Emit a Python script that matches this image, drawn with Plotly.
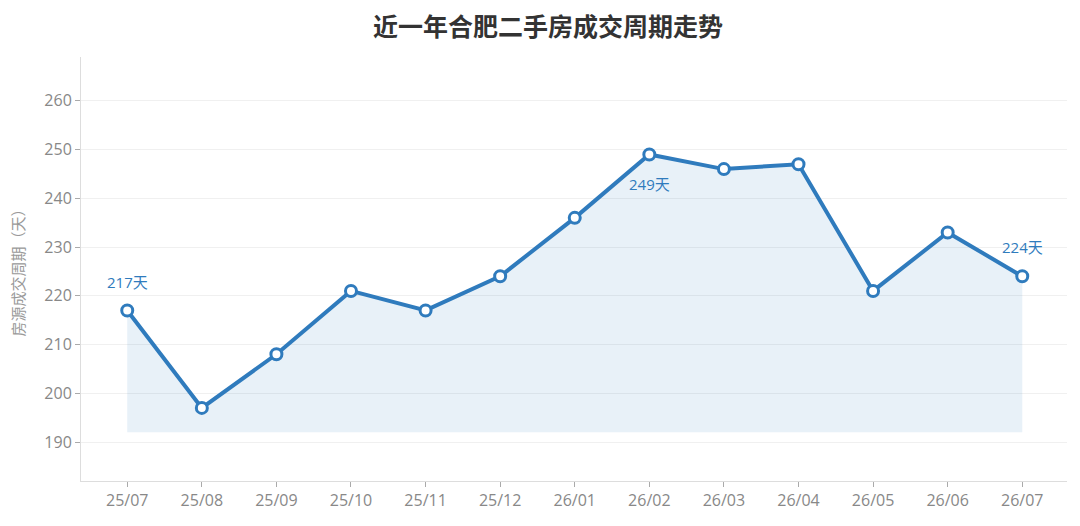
import plotly.graph_objects as go

# 数据
months = ["25/07", "25/08", "25/09", "25/10", "25/11", "25/12", "26/01",
          "26/02", "26/03", "26/04", "26/05", "26/06", "26/07"]
days = [217, 197, 208, 221, 217, 224, 236, 249, 246, 247, 221, 233, 224]
fill_base = 192

# 标注点：月份 -> 上/下方偏移
label_months = ["25/07", "26/02", "26/07"]
label_shift = [28, -30, 29]

line_color = "#2f7bbd"
font_family = "Open Sans, Noto Sans CJK SC"

fig = go.Figure()

# 填充底线
fig.add_trace(go.Scatter(
    x=months, y=[fill_base] * len(months),
    mode="lines", line=dict(width=0),
    hoverinfo="skip", showlegend=False,
))

# 面积填充
fig.add_trace(go.Scatter(
    x=months, y=days,
    mode="lines", line=dict(width=0),
    fill="tonexty", fillcolor="rgba(47,123,189,0.11)",
    hoverinfo="skip", showlegend=False,
))

# 折线 + 标记
fig.add_trace(go.Scatter(
    x=months, y=days,
    mode="lines+markers",
    line=dict(color=line_color, width=4),
    marker=dict(size=11, color="white", line=dict(color=line_color, width=3)),
    showlegend=False,
))

# 数值标签
for m, s in zip(label_months, label_shift):
    v = days[months.index(m)]
    fig.add_annotation(
        x=m, y=v, text=f"{v}天", showarrow=False, yshift=s,
        font=dict(color=line_color, size=15, family=font_family),
    )

fig.update_layout(
    title=dict(text="<b>近一年合肥二手房成交周期走势</b>", x=0.5, y=1 - 19 / 526,
               xanchor="center", yanchor="middle",
               font=dict(size=25, color="#333333", family=font_family)),
    width=1080, height=526,
    margin=dict(l=73, r=21, t=49, b=53),
    plot_bgcolor="white", paper_bgcolor="white",
    font=dict(family=font_family, color="#888888", size=16),
    xaxis=dict(
        type="category", range=[-0.62, 12.6], automargin=False,
        showline=True, linecolor="#dddddd", linewidth=1,
        ticks="outside", ticklen=5, tickcolor="#aaaaaa",
        showgrid=False, tickfont=dict(size=16, color="#888888"),
    ),
    yaxis=dict(
        range=[182, 269], dtick=10, tick0=190, automargin=False,
        showline=True, linecolor="#dddddd", linewidth=1,
        ticks="outside", ticklen=5, tickcolor="#aaaaaa",
        gridcolor="#f0f0f0", zeroline=False,
        tickfont=dict(size=16, color="#888888"),
        title=dict(text="房源成交周期（天）", font=dict(size=15, color="#999999"), standoff=30),
    ),
)

fig.write_html("out.html")
